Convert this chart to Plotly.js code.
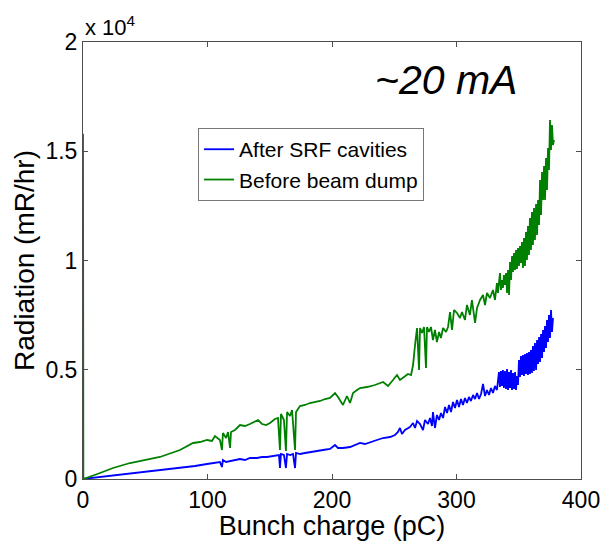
<!DOCTYPE html>
<html>
<head>
<meta charset="utf-8">
<script src="https://cdn.plot.ly/plotly-3.0.1.min.js"></script>
<style>html,body{margin:0;padding:0;background:#fff;}#chart{width:602px;height:541px;}</style>
</head>
<body>
<div id="chart"></div>
<script>
// Series names
var seriesNames = ['After SRF cavities', 'Before beam dump'];

// Blue: After SRF cavities (x = bunch charge pC, y = radiation mR/hr)
var blueX = [0, 13.7, 24.1, 37.8, 51.4, 65.9, 77.9, 90.0, 99.6, 106.0, 110.0, 111.6, 112.4, 114.9, 118.1, 122.1, 126.1, 130.1, 134.1, 139.8,
  143.8, 147.8, 151.8, 155.0, 157.4, 158.2, 159.0, 161.4, 163.0, 163.9, 166.3, 168.7, 170.3, 171.1, 174.3, 178.3, 182.3, 188.0, 192.8, 198.4,
  202.4, 204.8, 208.8, 214.5, 218.5, 222.5, 226.5, 230.5, 236.1, 241.0, 246.6, 250.6, 253.0, 254.6, 256.2, 258.6, 262.6, 265.1, 266.7, 268.3,
  270.7, 273.1, 274.7, 277.1, 278.7, 280.3, 281.1, 282.7, 284.3, 286.0, 287.5, 289.2, 290.8, 292.4, 294.0, 295.6, 297.2, 298.8, 300.4, 302.0,
  303.6, 305.2, 306.8, 308.4, 310.0, 311.6, 313.3, 314.9, 316.5, 318.1, 319.7, 321.3, 322.9, 324.5, 326.1, 327.7, 329.3, 330.9, 332.5, 334.1,
  334.9, 335.7, 336.5, 337.3, 338.1, 338.9, 339.8, 340.6, 341.4, 342.2, 343.0, 343.8, 344.6, 345.4, 346.2, 347.0, 347.8, 348.6, 349.4, 350.2,
  351.0, 351.8, 352.6, 353.4, 354.2, 355.0, 355.8, 356.6, 357.4, 358.2, 359.0, 359.8, 360.6, 361.4, 362.2, 363.0, 363.9, 364.7, 365.5, 366.3,
  367.1, 367.9, 368.7, 369.5, 370.3, 371.1, 371.9, 372.7, 373.5, 374.3, 375.1, 375.9, 376.7, 377.5];
var blueY = [0, 92, 137, 229, 320, 412, 503, 595, 687, 732, 778, 549, 870, 778, 824, 870, 915, 870, 961, 961,
  1007, 1007, 1053, 1098, 1098, 503, 1144, 1098, 503, 1144, 1098, 1144, 503, 1190, 1144, 1190, 1236, 1281, 1327, 1373,
  1556, 1419, 1419, 1464, 1556, 1648, 1602, 1693, 1785, 1876, 1922, 2014, 2151, 2334, 2060, 2243, 2380, 2563, 2334, 2655,
  2517, 2243, 2700, 2517, 2792, 2426, 3066, 2334, 2929, 2700, 3021, 2792, 3295, 3021, 3387, 3066, 3524, 3250, 3616, 3295,
  3661, 3387, 3707, 3478, 3753, 3570, 3845, 3661, 3936, 3661, 3890, 4348, 3799, 4073, 3845, 4165, 3936, 4257, 4073, 4897,
  4210, 4943, 4257, 4989, 4165, 4943, 4119, 5034, 4073, 4897, 4165, 4989, 4073, 4851, 4119, 4897, 4073, 4714, 4302, 5446,
  4668, 5629, 4760, 5675, 4714, 5721, 4806, 5767, 4760, 5812, 4806, 5904, 4851, 6087, 4943, 6224, 4989, 6362, 5263, 6499,
  5355, 6636, 5538, 6819, 5812, 7002, 5995, 7277, 6270, 7506, 6453, 7735, 6728, 7369];

// Green: Before beam dump
var greenX = [0, 0.3, 13.7, 24.1, 37.8, 51.4, 61.8, 77.9, 88.4, 94.0, 99.6, 103.6, 106.0, 110.0, 111.6, 112.4, 114.9, 116.5, 118.1, 118.9,
  122.1, 126.1, 130.1, 134.1, 138.2, 140.6, 143.8, 147.0, 150.2, 154.2, 156.6, 158.2, 159.0, 161.4, 163.0, 163.9, 166.3, 167.9, 170.3, 171.1,
  174.3, 178.3, 182.3, 190.4, 194.4, 198.4, 202.4, 204.8, 208.8, 212.0, 214.5, 216.9, 220.1, 222.5, 228.1, 234.5, 241.0, 245.0, 249.0, 252.2,
  254.6, 257.0, 261.0, 263.5, 265.1, 266.7, 268.3, 269.9, 270.7, 272.3, 273.9, 275.5, 276.3, 277.9, 279.5, 281.1, 282.7, 284.3, 286.0, 287.5,
  289.2, 291.6, 293.2, 294.8, 296.4, 298.0, 300.4, 302.8, 304.4, 306.8, 308.4, 310.8, 312.4, 314.9, 316.5, 318.9, 321.3, 322.9, 324.5, 326.9,
  329.3, 330.9, 332.5, 333.3, 334.9, 335.7, 336.5, 337.3, 338.1, 338.9, 339.8, 340.6, 341.4, 342.2, 343.0, 343.8, 344.6, 345.4, 346.2, 347.0,
  347.8, 348.6, 349.4, 350.2, 351.0, 351.8, 352.6, 353.4, 354.2, 355.0, 355.8, 356.6, 357.4, 358.2, 359.0, 359.8, 360.6, 361.4, 362.2, 363.0,
  363.9, 364.7, 365.5, 366.3, 367.1, 367.9, 368.7, 369.5, 370.3, 371.1, 371.9, 372.7, 373.5, 374.3, 375.1, 375.9, 376.7, 377.5, 378.3];
var greenY = [15800, 0, 275, 503, 732, 870, 1007, 1327, 1648, 1693, 1785, 1739, 1968, 1785, 1327, 2105, 1876, 2151, 1419, 2151,
  2243, 2471, 2426, 2517, 2609, 2700, 2517, 2471, 2563, 2746, 2792, 1327, 2975, 2700, 1281, 3066, 2884, 3158, 1327, 3066,
  3341, 3387, 3478, 3570, 3661, 3707, 3936, 3753, 3387, 3799, 3478, 3936, 4073, 4165, 4210, 4302, 4439, 4257, 4531, 4760,
  4531, 4623, 4806, 4760, 5217, 6133, 6911, 4989, 6911, 6682, 6957, 5080, 6957, 6728, 6957, 6362, 6819, 6270, 6728, 6453,
  6911, 6728, 6957, 7643, 6819, 7735, 7598, 7369, 7643, 7277, 7964, 7506, 8192, 7140, 7826, 8192, 8421, 7964, 8513, 8284,
  8650, 8192, 8970, 8513, 9428, 8650, 9107, 8741, 9336, 8879, 9428, 8513, 9565, 8421, 9931, 9107, 10206, 9474, 10343, 9565,
  10481, 9611, 10572, 9748, 10664, 9885, 10847, 9657, 11030, 9748, 11304, 10023, 11579, 10252, 11945, 10481, 12220, 10709, 12403, 10938,
  12586, 11167, 12769, 11625, 13684, 12083, 14051, 12769, 14325, 12769, 14691, 13226, 15147, 14142, 16430, 15057, 16201, 15286, 15515];

// Axis ticks
var xTickVals = [0, 100, 200, 300, 400];
var xTickText = ['0', '100', '200', '300', '400'];
var yTickVals = [0, 5000, 10000, 15000, 20000];
var yTickText = ['0', '0.5', '1', '1.5', '2'];

var FONT = 'Liberation Sans, Arial, sans-serif';
var AX = '#4d4d4d';

var traces = [
  {x: blueX, y: blueY, name: seriesNames[0], type: 'scatter', mode: 'lines',
   line: {color: 'rgb(0,0,255)', width: 1.8}},
  {x: greenX, y: greenY, name: seriesNames[1], type: 'scatter', mode: 'lines',
   line: {color: 'rgb(0,128,0)', width: 1.8}}
];

var axisCommon = {
  showline: true, linecolor: AX, linewidth: 1, mirror: 'allticks',
  ticks: 'inside', ticklen: 5, tickcolor: AX, tickwidth: 1,
  showgrid: false, zeroline: false,
  tickfont: {family: FONT, size: 23, color: '#000'}
};

var layout = {
  width: 602, height: 541,
  margin: {l: 83, r: 21, t: 42, b: 62},
  paper_bgcolor: '#fff', plot_bgcolor: '#fff',
  font: {family: FONT, color: '#000'},
  showlegend: true,
  xaxis: Object.assign({}, axisCommon, {
    range: [0, 400], tickmode: 'array', tickvals: xTickVals, ticktext: xTickText,
    title: {text: 'Bunch charge (pC)', font: {family: FONT, size: 27}, standoff: 6}
  }),
  yaxis: Object.assign({}, axisCommon, {
    range: [0, 20000], tickmode: 'array', tickvals: yTickVals, ticktext: yTickText,
    title: {text: 'Radiation (mR/hr)', font: {family: FONT, size: 28}, standoff: 2}
  }),
  legend: {
    x: 0.231, y: 0.803, xanchor: 'left', yanchor: 'top',
    bgcolor: '#fff', bordercolor: '#777', borderwidth: 1,
    font: {family: FONT, size: 21, color: '#000'},
    tracegroupgap: 0, itemwidth: 30
  },
  annotations: [
    {xref: 'paper', yref: 'paper', x: 0, y: 1, xanchor: 'left', yanchor: 'bottom', yshift: 0,
     text: 'x 10<sup>4</sup>', showarrow: false, font: {family: FONT, size: 22, color: '#000'}},
    {xref: 'paper', yref: 'paper', x: 0.729, y: 0.913, xanchor: 'center', yanchor: 'middle',
     text: '<i>~20 mA</i>', showarrow: false, font: {family: FONT, size: 41, color: '#000'}}
  ]
};

Plotly.newPlot('chart', traces, layout, {displayModeBar: false, staticPlot: true});
</script>
</body>
</html>
